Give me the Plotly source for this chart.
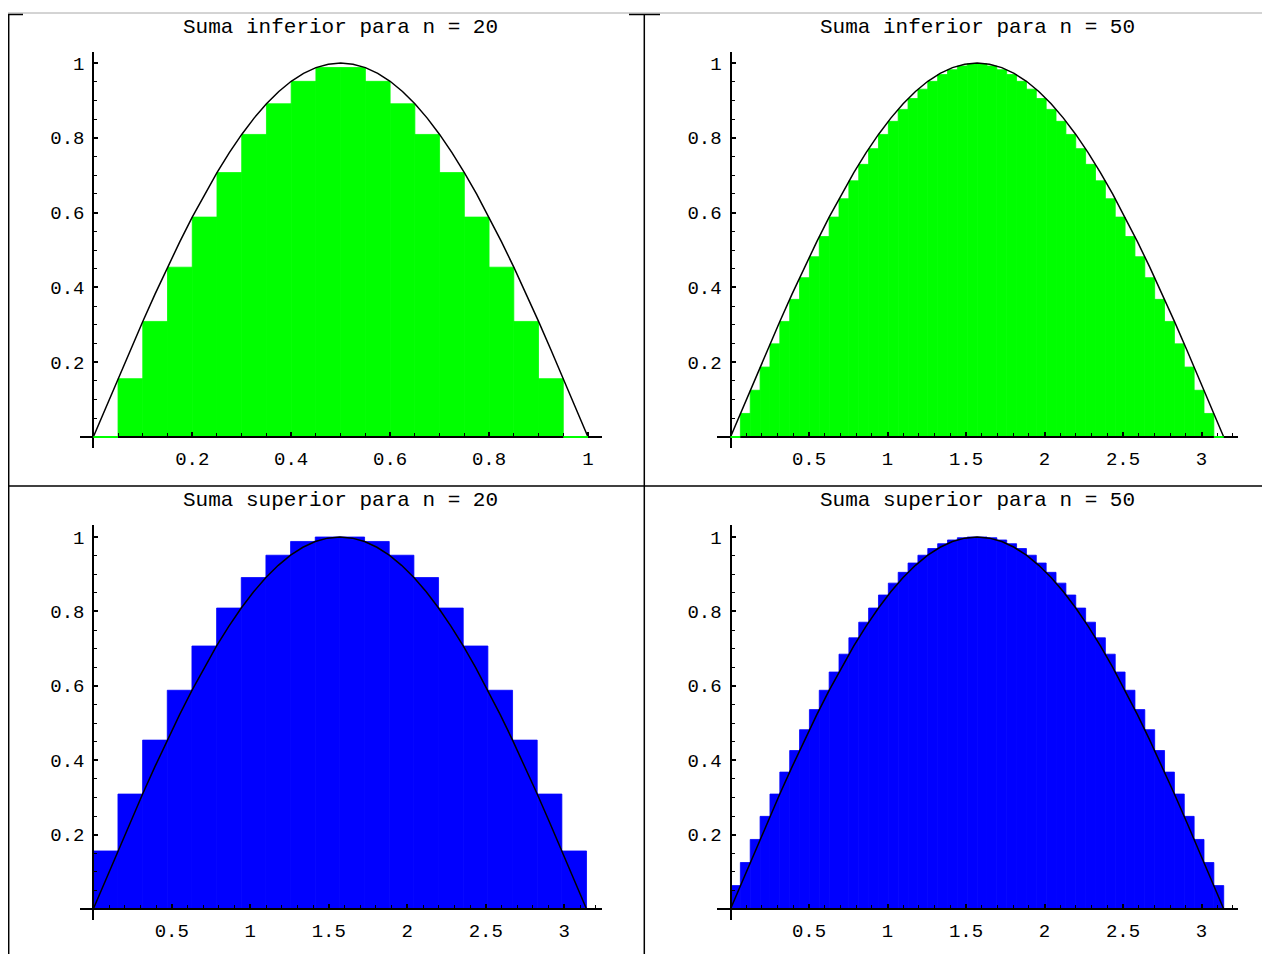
import plotly.graph_objects as go

# ---------------- data ----------------
lower20 = [0, 0.156, 0.309, 0.454, 0.588, 0.707, 0.809, 0.891, 0.951, 0.988,
           0.988, 0.951, 0.891, 0.809, 0.707, 0.588, 0.454, 0.309, 0.156, 0]
upper20 = [0.156, 0.309, 0.454, 0.588, 0.707, 0.809, 0.891, 0.951, 0.988, 1.0,
           1.0, 0.988, 0.951, 0.891, 0.809, 0.707, 0.588, 0.454, 0.309, 0.156]
lower50 = [0, 0.063, 0.125, 0.187, 0.249, 0.309, 0.368, 0.426, 0.482, 0.536,
           0.588, 0.637, 0.685, 0.729, 0.771, 0.809, 0.844, 0.876, 0.905, 0.930,
           0.951, 0.969, 0.982, 0.992, 0.998,
           0.998, 0.992, 0.982, 0.969, 0.951, 0.930, 0.905, 0.876, 0.844, 0.809,
           0.771, 0.729, 0.685, 0.637, 0.588, 0.536, 0.482, 0.426, 0.368, 0.309,
           0.249, 0.187, 0.125, 0.063, 0]
upper50 = [0.063, 0.125, 0.187, 0.249, 0.309, 0.368, 0.426, 0.482, 0.536, 0.588,
           0.637, 0.685, 0.729, 0.771, 0.809, 0.844, 0.876, 0.905, 0.930, 0.951,
           0.969, 0.982, 0.992, 0.998, 1.0,
           1.0, 0.998, 0.992, 0.982, 0.969, 0.951, 0.930, 0.905, 0.876, 0.844,
           0.809, 0.771, 0.729, 0.685, 0.637, 0.588, 0.536, 0.482, 0.426, 0.368,
           0.309, 0.249, 0.187, 0.125, 0.063]

# curve: fraction of the interval and curve height
curve_t = [0, 0.025, 0.05, 0.075, 0.1, 0.125, 0.15, 0.175, 0.2, 0.225, 0.25,
           0.275, 0.3, 0.325, 0.35, 0.375, 0.4, 0.425, 0.45, 0.475, 0.5,
           0.525, 0.55, 0.575, 0.6, 0.625, 0.65, 0.675, 0.7, 0.725, 0.75,
           0.775, 0.8, 0.825, 0.85, 0.875, 0.9, 0.925, 0.95, 0.975, 1.0]
curve_y = [0, 0.0785, 0.1564, 0.2334, 0.3090, 0.3827, 0.4540, 0.5225, 0.5878,
           0.6494, 0.7071, 0.7604, 0.8090, 0.8526, 0.8910, 0.9239, 0.9511,
           0.9724, 0.9877, 0.9969, 1.0,
           0.9969, 0.9877, 0.9724, 0.9511, 0.9239, 0.8910, 0.8526, 0.8090,
           0.7604, 0.7071, 0.6494, 0.5878, 0.5225, 0.4540, 0.3827, 0.3090,
           0.2334, 0.1564, 0.0785, 0]

titles = ["Suma inferior para n = 20", "Suma inferior para n = 50",
          "Suma superior para n = 20", "Suma superior para n = 50"]
interval_end = [1.0, 3.1416, 3.1416, 3.1416]
x_ticks_unit = [0.2, 0.4, 0.6, 0.8, 1]
x_ticks_unit_text = ["0.2", "0.4", "0.6", "0.8", "1"]
x_ticks_pi = [0.5, 1, 1.5, 2, 2.5, 3]
x_ticks_pi_text = ["0.5", "1", "1.5", "2", "2.5", "3"]
y_ticks = [0.2, 0.4, 0.6, 0.8, 1]
y_ticks_text = ["0.2", "0.4", "0.6", "0.8", "1"]

GREEN = "#00ff00"
BLUE = "#0000ff"

# ---------------- layout geometry (page pixels) ----------------
OFF = 8                      # page body margin of the html page
PW, PH = 1270, 954           # page size
W, H = PW - OFF, PH - OFF    # figure size


def px(p):
    return (p - OFF) / W


def py(p):
    return 1 - (p - OFF) / H


# xl, xr: axis line ends; x0: pixel of x=0; sx: pixels per unit
# yt, yb: axis line ends; y0: pixel of y=0; sy: pixels per unit
geom = [
    dict(xl=80, xr=601.7, x0=93.3, sx=494.7, yt=52, yb=448, y0=437, sy=374),
    dict(xl=717, xr=1238, x0=730.5, sx=157.0, yt=52, yb=448, y0=437, sy=374),
    dict(xl=80, xr=601.7, x0=93.3, sx=157.0, yt=525, yb=920, y0=909, sy=372),
    dict(xl=717, xr=1238, x0=730.5, sx=157.0, yt=525, yb=920, y0=909, sy=372),
]
panel_data = [(lower20, GREEN), (lower50, GREEN), (upper20, BLUE), (upper50, BLUE)]
title_y = [27, 27, 500, 500]

FONT = "Liberation Mono"

fig = go.Figure()
layout = dict(
    width=W, height=H, margin=dict(l=0, r=0, t=0, b=0),
    paper_bgcolor="white", plot_bgcolor="white", showlegend=False,
    font=dict(family=FONT, color="black"),
)
shapes = []
annotations = []

for i, (g, (heights, color)) in enumerate(zip(geom, panel_data)):
    n = len(heights)
    L = interval_end[i]
    w = L / n
    xa = "x" if i == 0 else f"x{i+1}"
    ya = "y" if i == 0 else f"y{i+1}"
    xkey = "xaxis" if i == 0 else f"xaxis{i+1}"
    ykey = "yaxis" if i == 0 else f"yaxis{i+1}"

    centers = [w * (k + 0.5) for k in range(n)]
    fig.add_trace(go.Bar(x=centers, y=heights, width=w, xaxis=xa, yaxis=ya,
                         marker=dict(color=color, line=dict(width=0.8, color=color)),
                         hoverinfo="skip"))
    fig.add_trace(go.Scatter(x=[t * L for t in curve_t], y=curve_y, mode="lines",
                             xaxis=xa, yaxis=ya,
                             line=dict(color="black", width=1.5),
                             hoverinfo="skip"))
    # zero-height rectangles drawn as green segments over the axis
    for k, h in enumerate(heights):
        if h == 0:
            shapes.append(dict(type="line", xref=xa, yref=ya, layer="above",
                               x0=k * w, x1=(k + 1) * w, y0=0, y1=0,
                               line=dict(color=color, width=2)))

    xr = [(g["xl"] - g["x0"]) / g["sx"], (g["xr"] - g["x0"]) / g["sx"]]
    yr = [(g["y0"] - g["yb"]) / g["sy"], (g["y0"] - g["yt"]) / g["sy"]]
    if L == 1.0:
        xt, xtt, minor_x = x_ticks_unit, x_ticks_unit_text, 0.05
    else:
        xt, xtt, minor_x = x_ticks_pi, x_ticks_pi_text, 0.1
    minor_xvals = [m * minor_x for m in range(1, int(xr[1] / minor_x) + 1)]
    minor_yvals = [m * 0.05 for m in range(1, 21)]

    layout[xkey] = dict(
        domain=[px(g["xl"]), px(g["xr"])], range=xr, anchor="free",
        position=py(g["y0"]), showgrid=False, zeroline=False,
        showline=True, linecolor="black", linewidth=2,
        tickmode="array", tickvals=xt, ticktext=xtt,
        ticks="inside", ticklen=4, tickwidth=1.5, tickcolor="black",
        minor=dict(tickmode="array", tickvals=minor_xvals, ticks="inside",
                   ticklen=3, tickwidth=1, tickcolor="black"),
        tickfont=dict(family=FONT, size=19, color="black"),
        ticklabelstandoff=4, fixedrange=True,
    )
    layout[ykey] = dict(
        domain=[py(g["yb"]), py(g["yt"])], range=yr, anchor="free",
        position=px(g["x0"]), showgrid=False, zeroline=False,
        showline=True, linecolor="black", linewidth=2,
        tickmode="array", tickvals=y_ticks, ticktext=y_ticks_text,
        ticks="inside", ticklen=4, tickwidth=1.5, tickcolor="black",
        minor=dict(tickmode="array", tickvals=minor_yvals, ticks="inside",
                   ticklen=3, tickwidth=1, tickcolor="black"),
        tickfont=dict(family=FONT, size=19, color="black"),
        ticklabelstandoff=4, fixedrange=True,
    )
    annotations.append(dict(
        text=titles[i], xref="paper", yref="paper",
        x=px((g["xl"] + g["xr"]) / 2), y=py(title_y[i]),
        xanchor="center", yanchor="middle", showarrow=False,
        font=dict(family=FONT, size=21, color="black")))


# panel frame lines
def hline(y, x0, x1, color="black", width=1.5):
    return dict(type="line", xref="paper", yref="paper",
                x0=px(x0), x1=px(x1), y0=py(y), y1=py(y),
                line=dict(color=color, width=width), layer="above")


def vline(x, y0, y1, color="black", width=1.5):
    return dict(type="line", xref="paper", yref="paper",
                x0=px(x), x1=px(x), y0=py(y0), y1=py(y1),
                line=dict(color=color, width=width), layer="above")


shapes += [
    hline(13, OFF, PW, color="#a8a8a8", width=1),
    hline(14.5, OFF, 23),
    hline(14.5, 629, 660),
    vline(644.3, 14, PH),
    vline(8.7, 14, PH),
    hline(486, OFF, PW),
]

layout["shapes"] = shapes
layout["annotations"] = annotations
fig.update_layout(**layout)
fig.write_html("out.html")
